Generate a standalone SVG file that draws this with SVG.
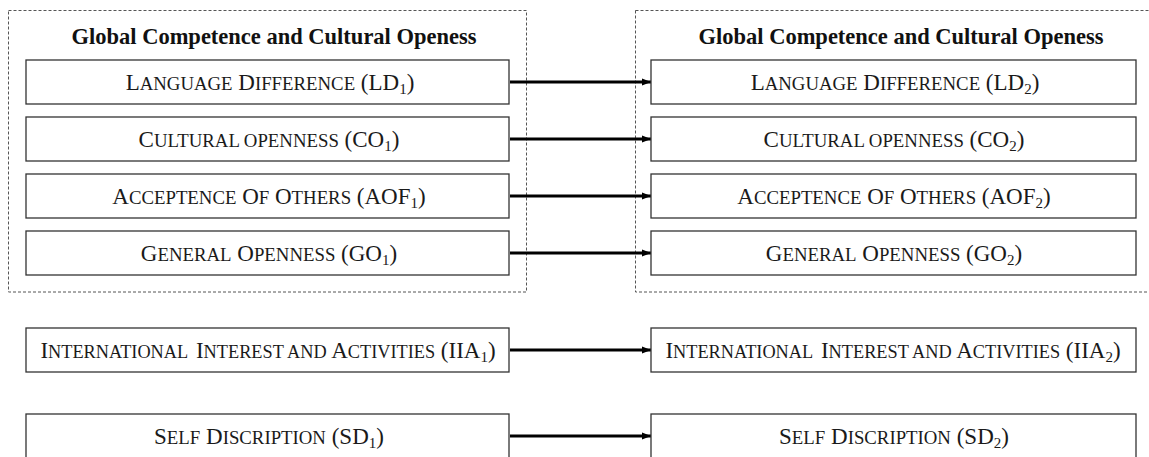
<svg xmlns="http://www.w3.org/2000/svg" width="1149" height="457" viewBox="0 0 1149 457">
<style>
  .cont { fill: none; stroke: #555; stroke-width: 1; stroke-dasharray: 3 2; }
  .title { font-family: "Liberation Serif", "Times New Roman", serif; font-weight: bold; font-size: 22.5px; fill: #111; text-anchor: middle; }
  .box { fill: #fff; stroke: #333; stroke-width: 1.3; }
  .lbl { font-family: "Liberation Serif", "Times New Roman", serif; font-size: 23px; fill: #1a1a1a; text-anchor: middle; }
  .sc { font-size: 18.8px; }
  .sc2 { font-size: 18.3px; }
  .sub { font-size: 15px; }
  .conn { stroke: #000; stroke-width: 2.8; fill: none; marker-end: url(#arr); }
</style>
<defs>
  <marker id="arr" markerWidth="10" markerHeight="8" refX="9" refY="4" orient="auto" markerUnits="userSpaceOnUse">
    <path d="M0,0.5 L9,4 L0,7.5 z" fill="#000"/>
  </marker>
</defs>
<rect width="1149" height="457" fill="#fff"/>

<g id="group-left">
  <rect class="cont" x="8.5" y="10.5" width="518" height="281.5"/>
  <text class="title" x="274" y="44">Global Competence and Cultural Openess</text>
</g>
<g id="group-right">
  <rect class="cont" x="635.5" y="10.5" width="520" height="281.5"/>
  <text class="title" x="901" y="44">Global Competence and Cultural Openess</text>
</g>

<g id="connectors">
  <line class="conn" x1="510" y1="82" x2="651" y2="82"/>
  <line class="conn" x1="510" y1="139" x2="651" y2="139"/>
  <line class="conn" x1="510" y1="196" x2="651" y2="196"/>
  <line class="conn" x1="510" y1="253" x2="651" y2="253"/>
  <line class="conn" x1="510" y1="350" x2="651" y2="350"/>
  <line class="conn" x1="510" y1="436" x2="651" y2="436"/>
</g>

<g id="LD1">
  <rect class="box" x="26" y="60" width="483" height="44"/>
  <text class="lbl" x="270" y="90">L<tspan class="sc">ANGUAGE</tspan> D<tspan class="sc">IFFERENCE</tspan> (LD<tspan class="sub" dy="4">1</tspan><tspan dy="-4">)</tspan></text>
</g>
<g id="CO1">
  <rect class="box" x="26" y="117" width="483" height="44"/>
  <text class="lbl" x="269" y="147">C<tspan class="sc">ULTURAL OPENNESS</tspan> (CO<tspan class="sub" dy="4">1</tspan><tspan dy="-4">)</tspan></text>
</g>
<g id="AOF1">
  <rect class="box" x="26" y="174" width="483" height="44"/>
  <text class="lbl" x="269" y="204">A<tspan class="sc">CCEPTENCE</tspan> O<tspan class="sc">F</tspan> O<tspan class="sc">THERS</tspan> (AOF<tspan class="sub" dy="4">1</tspan><tspan dy="-4">)</tspan></text>
</g>
<g id="GO1">
  <rect class="box" x="26" y="231" width="483" height="44"/>
  <text class="lbl" x="269" y="261">G<tspan class="sc">ENERAL</tspan> O<tspan class="sc">PENNESS</tspan> (GO<tspan class="sub" dy="4">1</tspan><tspan dy="-4">)</tspan></text>
</g>
<g id="IIA1">
  <rect class="box" x="26" y="328" width="483" height="44"/>
  <text class="lbl" x="268" y="358">I<tspan class="sc2">NTERNATIONAL</tspan> <tspan dx="2">I</tspan><tspan class="sc2">NTEREST AND</tspan> A<tspan class="sc2">CTIVITIES</tspan> (IIA<tspan class="sub" dy="4">1</tspan><tspan dy="-4">)</tspan></text>
</g>
<g id="SD1">
  <rect class="box" x="26" y="414" width="483" height="46"/>
  <text class="lbl" x="269" y="444">S<tspan class="sc">ELF</tspan> D<tspan class="sc">ISCRIPTION</tspan> (SD<tspan class="sub" dy="4">1</tspan><tspan dy="-4">)</tspan></text>
</g>

<g id="LD2">
  <rect class="box" x="651" y="60" width="485" height="44"/>
  <text class="lbl" x="895" y="90">L<tspan class="sc">ANGUAGE</tspan> D<tspan class="sc">IFFERENCE</tspan> (LD<tspan class="sub" dy="4">2</tspan><tspan dy="-4">)</tspan></text>
</g>
<g id="CO2">
  <rect class="box" x="651" y="117" width="485" height="44"/>
  <text class="lbl" x="894" y="147">C<tspan class="sc">ULTURAL OPENNESS</tspan> (CO<tspan class="sub" dy="4">2</tspan><tspan dy="-4">)</tspan></text>
</g>
<g id="AOF2">
  <rect class="box" x="651" y="174" width="485" height="44"/>
  <text class="lbl" x="894" y="204">A<tspan class="sc">CCEPTENCE</tspan> O<tspan class="sc">F</tspan> O<tspan class="sc">THERS</tspan> (AOF<tspan class="sub" dy="4">2</tspan><tspan dy="-4">)</tspan></text>
</g>
<g id="GO2">
  <rect class="box" x="651" y="231" width="485" height="44"/>
  <text class="lbl" x="894" y="261">G<tspan class="sc">ENERAL</tspan> O<tspan class="sc">PENNESS</tspan> (GO<tspan class="sub" dy="4">2</tspan><tspan dy="-4">)</tspan></text>
</g>
<g id="IIA2">
  <rect class="box" x="651" y="328" width="485" height="44"/>
  <text class="lbl" x="893" y="358">I<tspan class="sc2">NTERNATIONAL</tspan> <tspan dx="2">I</tspan><tspan class="sc2">NTEREST AND</tspan> A<tspan class="sc2">CTIVITIES</tspan> (IIA<tspan class="sub" dy="4">2</tspan><tspan dy="-4">)</tspan></text>
</g>
<g id="SD2">
  <rect class="box" x="651" y="414" width="485" height="46"/>
  <text class="lbl" x="894" y="444">S<tspan class="sc">ELF</tspan> D<tspan class="sc">ISCRIPTION</tspan> (SD<tspan class="sub" dy="4">2</tspan><tspan dy="-4">)</tspan></text>
</g>
</svg>
